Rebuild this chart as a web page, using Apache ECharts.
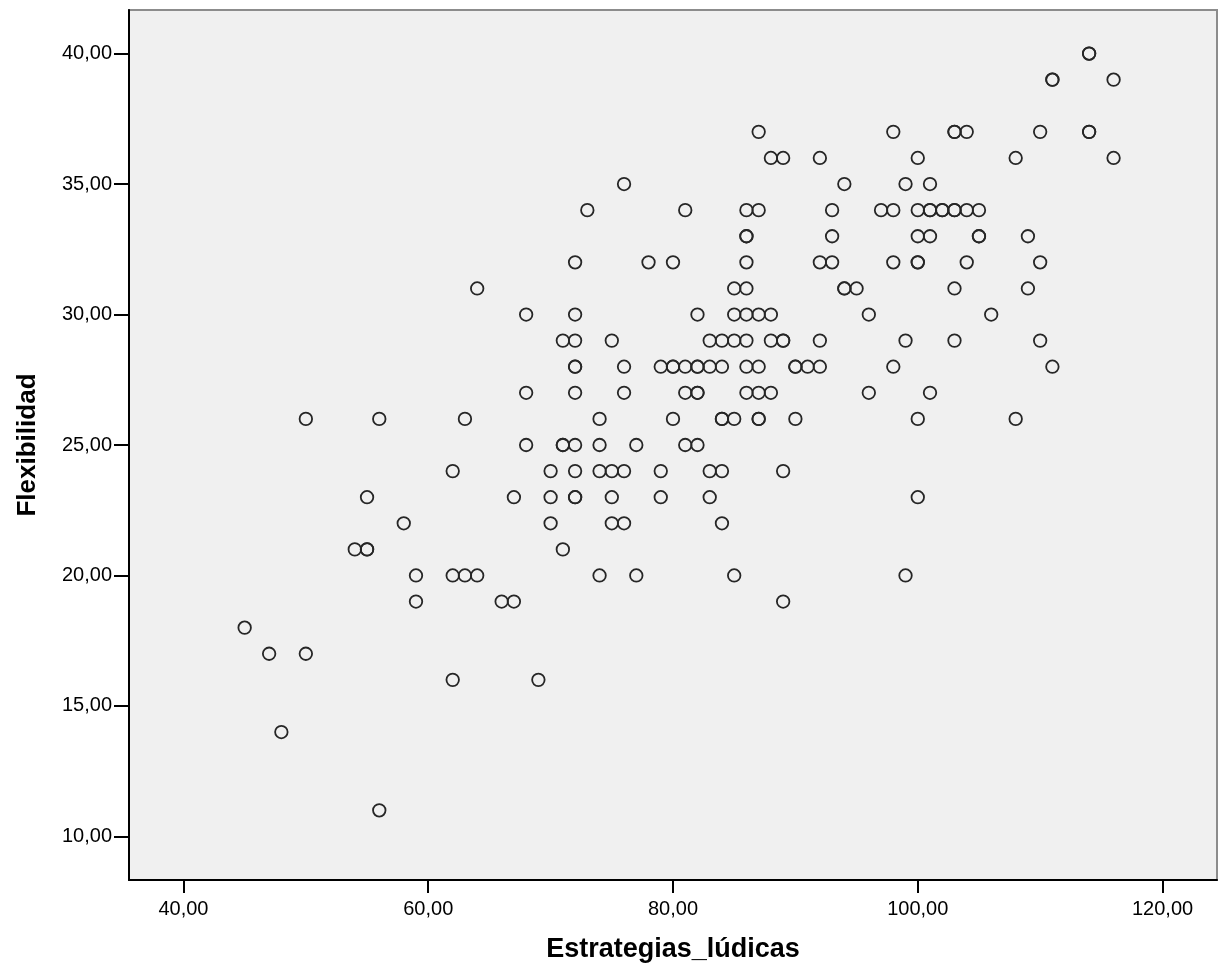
<!DOCTYPE html>
<html>
<head>
<meta charset="utf-8">
<script src="https://cdn.jsdelivr.net/npm/echarts@6/dist/echarts.min.js"></script>
<style>
html,body{margin:0;padding:0;background:#fff;}
#chart{width:1223px;height:972px;}
</style>
</head>
<body>
<div id="chart"></div>
<script>
// Estrategias_lúdicas (x) and Flexibilidad (y), paired by index
const estrategias = [
  114,114,
  111,111,116,
  87,98,103,103,104,110,114,114,
  88,89,92,100,108,116,
  76,94,99,101,
  73,81,86,87,93,97,98,100,101,101,102,102,103,103,104,105,
  86,86,93,100,101,105,105,109,
  72,78,80,86,92,93,98,100,100,104,110,
  64,85,86,94,94,95,103,109,
  68,72,82,85,86,87,88,96,106,
  71,72,75,83,84,85,86,88,89,89,92,99,103,110,
  72,72,76,79,80,80,81,82,82,83,84,86,87,90,90,91,92,98,111,
  68,72,76,81,82,82,86,87,88,96,101,
  50,56,63,74,80,84,84,85,87,87,90,100,108,
  68,71,71,72,74,77,81,82,
  62,70,72,74,75,76,79,83,84,89,
  55,67,70,72,72,75,79,83,100,
  58,70,75,76,84,
  54,55,55,71,
  59,62,63,64,74,77,85,99,
  59,66,67,89,
  45,
  47,50,
  62,69,
  48,
  56
];
const flexibilidad = [
  40,40,
  39,39,39,
  37,37,37,37,37,37,37,37,
  36,36,36,36,36,36,
  35,35,35,35,
  34,34,34,34,34,34,34,34,34,34,34,34,34,34,34,34,
  33,33,33,33,33,33,33,33,
  32,32,32,32,32,32,32,32,32,32,32,
  31,31,31,31,31,31,31,31,
  30,30,30,30,30,30,30,30,30,
  29,29,29,29,29,29,29,29,29,29,29,29,29,29,
  28,28,28,28,28,28,28,28,28,28,28,28,28,28,28,28,28,28,28,
  27,27,27,27,27,27,27,27,27,27,27,
  26,26,26,26,26,26,26,26,26,26,26,26,26,
  25,25,25,25,25,25,25,25,
  24,24,24,24,24,24,24,24,24,24,
  23,23,23,23,23,23,23,23,23,
  22,22,22,22,22,
  21,21,21,21,
  20,20,20,20,20,20,20,20,
  19,19,19,19,
  18,
  17,17,
  16,16,
  14,
  11
];
const xTicks = [40, 60, 80, 100, 120];
const yTicks = [10, 15, 20, 25, 30, 35, 40];

const points = estrategias.map((x, i) => [x, flexibilidad[i]]);
const fmt = v => Number(v).toFixed(2).replace('.', ',');

const chart = echarts.init(document.getElementById('chart'), null, {renderer: 'canvas'});
chart.setOption({
  backgroundColor: '#ffffff',
  animation: false,
  grid: {
    left: 129, right: 6, top: 10, bottom: 92,
    show: true,
    backgroundColor: '#f0f0f0',
    borderColor: '#8c8c8c',
    borderWidth: 2
  },
  xAxis: {
    type: 'value',
    min: 35.55, max: 124.45,
    name: 'Estrategias_lúdicas',
    nameLocation: 'middle',
    nameGap: 56,
    nameTextStyle: {fontFamily: 'Liberation Sans', fontWeight: 'bold', fontSize: 27, color: '#000'},
    axisLine: {show: true, onZero: false, lineStyle: {color: '#000', width: 2}},
    axisTick: {show: true, inside: false, length: 13, customValues: xTicks, lineStyle: {color: '#000', width: 2}},
    axisLabel: {customValues: xTicks, formatter: fmt, margin: 19, fontFamily: 'Liberation Sans', fontSize: 20, color: '#000'},
    splitLine: {show: false}
  },
  yAxis: {
    type: 'value',
    min: 8.33, max: 41.67,
    name: 'Flexibilidad',
    nameLocation: 'middle',
    nameGap: 88,
    nameRotate: 90,
    nameTextStyle: {fontFamily: 'Liberation Sans', fontWeight: 'bold', fontSize: 26, color: '#000'},
    axisLine: {show: true, onZero: false, lineStyle: {color: '#000', width: 2}},
    axisTick: {show: true, inside: false, length: 15, customValues: yTicks, lineStyle: {color: '#000', width: 2}},
    axisLabel: {customValues: yTicks, formatter: fmt, margin: 17, fontFamily: 'Liberation Sans', fontSize: 20, color: '#000'},
    splitLine: {show: false}
  },
  series: [{
    type: 'scatter',
    data: points,
    symbol: 'circle',
    symbolSize: 12.5,
    itemStyle: {color: 'rgba(0,0,0,0)', borderColor: '#262626', borderWidth: 1.8, opacity: 1},
    emphasis: {disabled: true}
  }]
});
</script>
</body>
</html>
